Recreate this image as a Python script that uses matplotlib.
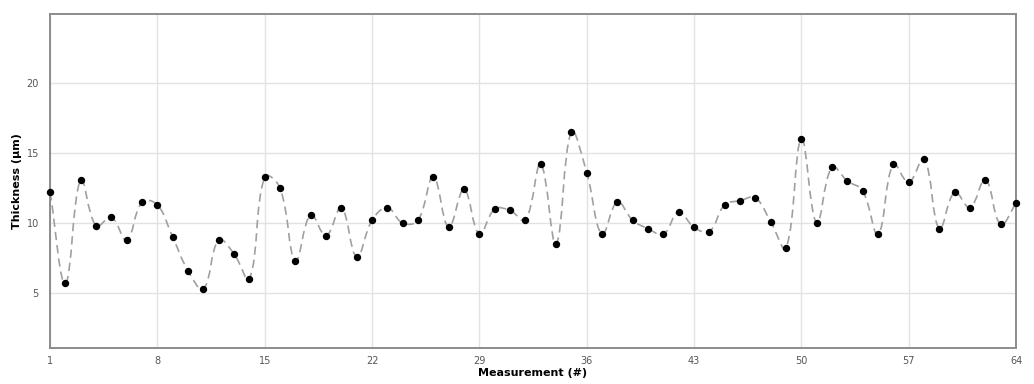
import numpy as np
import matplotlib.pyplot as plt
from matplotlib.path import Path
from matplotlib.patches import PathPatch

medicao = list(range(1, 65))
espessura = [
    12.2, 5.7, 13.1, 9.8, 10.4, 8.8, 11.5, 11.3, 9.0, 6.6,
    5.3, 8.8, 7.8, 6.0, 13.3, 12.5, 7.3, 10.6, 9.1, 11.1,
    7.6, 10.2, 11.1, 10.0, 10.2, 13.3, 9.7, 12.4, 9.2, 11.0,
    10.9, 10.2, 14.2, 8.5, 16.5, 13.6, 9.2, 11.5, 10.2, 9.6,
    9.2, 10.8, 9.7, 9.4, 11.3, 11.6, 11.8, 10.1, 8.2, 16.0,
    10.0, 14.0, 13.0, 12.3, 9.2, 14.2, 12.9, 14.6, 9.6, 12.2,
    11.1, 13.1, 9.9, 11.4,
]
xticks = [1, 8, 15, 22, 29, 36, 43, 50, 57, 64]
yticks = [5, 10, 15, 20]

fig = plt.figure(figsize=(10.34, 3.84), dpi=100)
ax = fig.add_axes([0.0484, 0.0938, 0.9342, 0.8697])
ax.set_xlim(1, 64)
ax.set_ylim(1.1, 24.9)

# Curva suave (spline com tensão) entre os pontos, via Bezier
x = np.array(medicao, dtype=float)
y = np.array(espessura, dtype=float)
sx, sy = 15.33, 14.0  # pixels por unidade, para calcular as distâncias
tension = 0.4
n = len(x)
cp_prev = np.zeros((n, 2))
cp_next = np.zeros((n, 2))
for i in range(n):
    p1 = np.array([x[i], y[i]])
    p0 = np.array([x[i - 1], y[i - 1]]) if i > 0 else p1
    p2 = np.array([x[i + 1], y[i + 1]]) if i < n - 1 else p1
    d01 = np.hypot((p1[0] - p0[0]) * sx, (p1[1] - p0[1]) * sy)
    d12 = np.hypot((p2[0] - p1[0]) * sx, (p2[1] - p1[1]) * sy)
    tot = d01 + d12
    s01 = d01 / tot if tot else 0
    s12 = d12 / tot if tot else 0
    cp_prev[i] = p1 - tension * s01 * (p2 - p0)
    cp_next[i] = p1 + tension * s12 * (p2 - p0)

verts = [(x[0], y[0])]
codes = [Path.MOVETO]
for i in range(n - 1):
    verts += [tuple(cp_next[i]), tuple(cp_prev[i + 1]), (x[i + 1], y[i + 1])]
    codes += [Path.CURVE4] * 3
curva = PathPatch(Path(verts, codes), facecolor='none', edgecolor='#a0a0a0',
                  lw=1.2, linestyle=(0, (5, 3)), zorder=2)
ax.add_patch(curva)

ax.plot(medicao, espessura, 'o', color='black', markersize=4.3,
        zorder=3, clip_on=False)

ax.set_xticks(xticks)
ax.set_yticks(yticks)
ax.grid(True, color='#e2e2e2', lw=1)
ax.set_axisbelow(True)
ax.tick_params(length=0, labelsize=7, colors='#555555', pad=6)
ax.tick_params(axis='y', pad=8)
for s in ax.spines.values():
    s.set_color('#8c8c8c')
    s.set_linewidth(1.4)

ax.set_xlabel('Measurement (#)', fontsize=8, fontweight='bold', labelpad=1)
ax.set_ylabel('Thickness (µm)', fontsize=8, fontweight='bold', labelpad=3)

fig.savefig('out.png', dpi=100)
